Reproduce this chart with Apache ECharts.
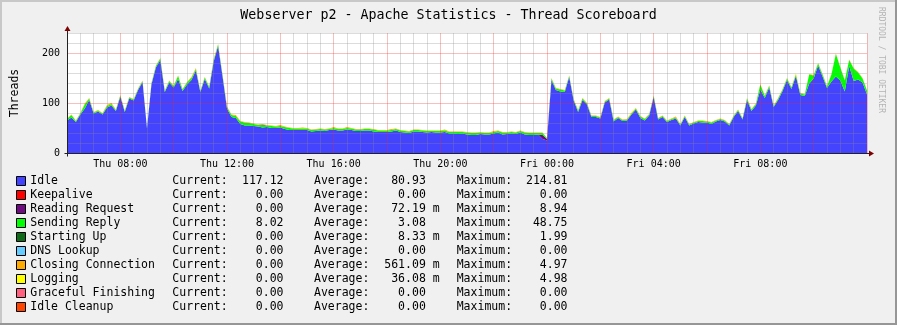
<!DOCTYPE html>
<html><head><meta charset="utf-8">
<script src="https://cdn.jsdelivr.net/npm/echarts@6/dist/echarts.min.js"></script>
<style>html,body{margin:0;padding:0;background:#f0f0f0}#c{width:897px;height:325px}</style>
</head><body><div id="c"></div><script>
// ---------- data (10-minute samples, Thu 06:00 -> Fri 12:00) ----------
const SAMPLES_PER_HOUR = 6;
const startHour = 6;
const dayNames = ['Thu', 'Fri'];
const tickHours = [2, 6, 10, 14, 18, 22, 26];
const tickLabels = ['Thu 08:00', 'Thu 12:00', 'Thu 16:00', 'Thu 20:00', 'Fri 00:00', 'Fri 04:00', 'Fri 08:00'];
const yTickLabels = [0, 100, 200];

const idle = [
  65,71,62,77,89,106,79,83,77,91,
  95,84,113,82,109,105,126,142,49,137,
  171,186,122,141,131,148,124,137,146,165,
  122,148,129,183,214,153,89,72,70,58,
  55,55,54,53,51,52,50,50,51,48,
  46,46,46,46,46,43,44,45,44,46,
  47,45,45,47,46,44,44,45,45,43,
  42,42,42,43,45,42,41,40,43,43,
  42,41,42,41,41,42,39,39,38,39,
  37,36,36,38,37,37,39,41,37,38,
  39,38,41,37,36,36,37,28,25,146,
  126,123,122,152,105,82,106,97,72,72,
  69,101,107,63,70,64,65,77,87,70,
  65,75,112,67,72,62,66,69,55,72,
  55,59,62,61,61,58,63,66,63,55,
  72,84,67,106,84,95,127,110,131,92,
  106,124,146,128,154,116,114,139,149,175,
  153,130,143,153,145,123,174,144,147,141,
  117
];
const readingRequest = [
  0,0,0,0,0,0,0,0,0,0, 0,0,0,0,0,0,0,0,0,0, 0,0,0,0,0,0,0,0,0,0,
  0,0,0,0,0,0,0,0,0,0, 0,0,0,0,0,0,0,0,0,0, 0,0,0,0,0,0,0,0,0,0,
  0,0,0,0,0,0,0,0,0,0, 0,0,0,0,0,0,0,0,0,0, 0,0,0,0,0,0,0,0,0,0,
  0,0,0,0,0,0,0,0,0,0, 0,0,0,0,0,0,0,8,3,0, 0,0,0,0,0,0,0,0,0,0,
  0,0,0,0,0,0,0,0,0,0, 0,0,0,0,0,0,0,0,0,0, 0,0,0,0,0,0,0,0,0,0,
  0,0,0,0,0,0,0,0,0,0, 0,0,0,0,0,0,0,0,0,0, 0,0,0,0,0,0,0,0,0,0,
  0
];
const sendingReply = [
  3,5,2,2,8,3,2,2,2,3,
  3,2,2,2,2,2,2,2,1,2,
  3,3,2,3,3,6,3,4,4,3,
  2,3,3,3,3,2,3,4,4,5,
  6,5,4,3,4,3,4,3,3,4,
  4,3,3,3,3,3,3,3,3,2,
  3,3,3,3,3,3,3,3,3,4,
  3,3,3,3,3,3,3,3,3,3,
  3,3,2,3,3,3,3,3,4,3,
  4,4,4,3,3,3,3,3,4,3,
  3,3,3,4,4,4,3,4,2,3,
  3,4,3,2,2,3,3,2,2,2,
  2,2,2,3,2,2,2,2,2,3,
  3,2,2,2,2,2,2,2,2,2,
  2,2,2,3,2,3,2,2,2,2,
  2,2,2,3,3,3,10,4,3,2,
  3,3,3,3,3,3,3,18,6,4,
  4,3,14,45,26,22,12,25,14,8,
  8
];
const startingUp = [
  0,0,0,0,0,0,0,0,0,0, 0,0,0,0,0,0,0,0,0,0, 0,0,0,0,0,0,0,0,0,0,
  0,0,0,0,0,0,0,0,0,0, 0,0,0,0,2,0,0,0,0,0, 0,0,0,0,0,0,0,0,0,0,
  0,0,0,0,0,0,0,0,0,0, 0,0,0,0,0,0,0,0,0,0, 0,0,0,0,0,0,0,0,0,0,
  0,0,0,0,0,0,0,0,0,0, 0,0,0,0,0,0,0,0,0,0, 0,0,0,0,0,0,0,0,0,0,
  0,0,0,0,0,0,0,0,0,0, 0,0,0,0,0,0,0,0,0,0, 0,0,0,0,0,0,0,0,0,0,
  0,0,0,0,0,0,0,0,0,0, 0,0,0,0,0,0,0,0,0,0, 0,0,0,0,0,0,0,0,0,0,
  0
];
const closingConnection = [
  1,1,1,1,2,1,1,1,1,2,
  2,1,1,1,1,1,1,1,0,1,
  1,1,1,1,1,1,1,1,2,2,
  1,1,1,2,1,1,1,1,2,1,
  1,1,1,1,1,1,1,1,2,1,
  1,1,1,2,1,1,1,1,1,1,
  2,1,1,2,1,1,1,1,1,1,
  1,1,1,2,1,1,1,1,1,1,
  1,1,1,1,1,2,1,1,1,1,
  1,1,1,1,1,1,2,1,1,1,
  1,1,1,1,1,1,1,1,0,1,
  1,1,1,1,1,1,1,1,1,1,
  1,1,1,1,1,1,1,1,1,1,
  1,1,1,1,1,1,1,2,1,1,
  1,1,1,1,1,1,1,1,1,1,
  1,1,1,1,1,1,1,1,1,1,
  1,1,1,1,1,1,1,1,1,1,
  1,1,1,1,1,1,1,1,1,1,
  0
];
const logging = [
  0,0,0,0,0,0,0,0,0,0, 0,0,0,0,0,0,0,0,0,0, 0,0,0,0,0,0,0,0,0,0,
  0,0,0,0,0,0,0,0,0,0, 0,0,0,0,0,0,0,0,0,0, 0,0,0,0,0,0,0,0,0,0,
  0,0,0,0,0,0,0,0,0,0, 0,0,0,0,0,0,0,0,0,0, 0,0,0,0,0,0,0,0,0,0,
  0,0,0,0,0,0,0,0,0,0, 0,0,0,0,0,0,0,0,0,0, 0,0,0,0,0,0,0,0,0,0,
  0,0,0,0,0,0,0,2,0,0, 0,0,0,0,0,0,0,0,0,0, 0,0,0,0,0,0,0,0,0,0,
  0,0,0,0,0,0,0,0,0,0, 0,0,0,0,2,0,0,0,0,0, 0,0,0,0,0,0,0,0,0,0,
  0
];

// legend / statistics table
const legendNames = ['Idle','Keepalive','Reading Request','Sending Reply','Starting Up','DNS Lookup','Closing Connection','Logging','Graceful Finishing','Idle Cleanup'];
const legendColors = ['#4444ff','#ff0000','#700a80','#00ff00','#106b18','#66ccff','#ffaa00','#ffff00','#ff6080','#ff4400'];
const currentValues = ['117.12','0.00','0.00','8.02','0.00','0.00','0.00','0.00','0.00','0.00'];
const averageValues = ['80.93','0.00','72.19','3.08','8.33','0.00','561.09','36.08','0.00','0.00'];
const averageUnits  = ['','','m','','m','','m','m','',''];
const maximumValues = ['214.81','0.00','8.94','48.75','1.99','0.00','4.97','4.98','0.00','0.00'];

const titleText = 'Webserver p2 - Apache Statistics - Thread Scoreboard';
const yAxisName = 'Threads';
const watermark = 'RRDTOOL / TOBI OETIKER';

// ---------- chart ----------
const MONO = "'DejaVu Sans Mono', monospace";
const MAJOR = 'rgba(235,40,40,0.30)';
const MINOR = 'rgba(140,140,140,0.30)';

// category labels: time of each sample
const categories = idle.map((_, i) => {
  const totalMin = startHour * 60 + i * (60 / SAMPLES_PER_HOUR);
  const d = Math.floor(totalMin / 1440), m = totalMin % 1440;
  return dayNames[d] + ' ' + String(Math.floor(m / 60)).padStart(2, '0') + ':' + String(m % 60).padStart(2, '0');
});
const labelIndex = tickHours.map(h => h * SAMPLES_PER_HOUR);

function area(name, color, arr) {
  return {
    name, type: 'line', stack: 'total', data: arr,
    showSymbol: false, symbol: 'none', silent: true,
    lineStyle: { width: 0, color }, itemStyle: { color },
    areaStyle: { color, opacity: 1 }, z: 2
  };
}

const chart = echarts.init(document.getElementById('c'), null, { renderer: 'canvas' });
chart.setOption({
  animation: false,
  backgroundColor: '#f0f0f0',
  grid: { left: 67, right: 30, top: 33, bottom: 172, show: true, backgroundColor: '#ffffff', borderWidth: 0 },
  xAxis: {
    type: 'category', data: categories, boundaryGap: false, z: 5,
    axisLine: { show: true, onZero: false, lineStyle: { color: '#222', width: 1 } },
    axisTick: { show: false },
    axisLabel: {
      interval: 0, fontFamily: MONO, fontSize: 10, color: '#000', margin: 6,
      formatter: (v, idx) => { const k = labelIndex.indexOf(idx); return k >= 0 ? tickLabels[k] : ''; }
    },
    splitLine: { show: true, interval: SAMPLES_PER_HOUR / 2 - 1, lineStyle: { color: [MAJOR, MINOR, MINOR, MINOR], width: 1 } }
  },
  yAxis: {
    type: 'value', min: 0, max: 240, interval: 20, z: 5,
    name: yAxisName, nameLocation: 'middle', nameGap: 46,
    nameTextStyle: { fontFamily: MONO, fontSize: 11.5, color: '#000' },
    axisLine: { show: true, lineStyle: { color: '#222', width: 1 } },
    axisTick: { show: false },
    axisLabel: {
      fontFamily: MONO, fontSize: 10, color: '#000', margin: 7,
      formatter: v => yTickLabels.indexOf(v) >= 0 ? String(v) : ''
    },
    splitLine: { show: true, lineStyle: { color: [MAJOR, MINOR, MINOR, MINOR, MINOR], width: 1 } }
  },
  series: [
    area('Idle', legendColors[0], idle),
    area('Reading Request', legendColors[2], readingRequest),
    area('Sending Reply', legendColors[3], sendingReply),
    area('Starting Up', legendColors[4], startingUp),
    area('Closing Connection', legendColors[6], closingConnection),
    area('Logging', legendColors[7], logging)
  ]
});

// ---------- decorations: title, watermark, stats table, frame, arrows ----------
const g = [];
g.push({ type: 'text', left: 'center', top: 9, style: { text: titleText, font: "13.3px " + MONO, fill: '#000' } });
g.push({ type: 'text', x: 881, y: 7, rotation: -Math.PI / 2, style: { text: watermark, font: "8px " + MONO, fill: '#b4b4b4', textAlign: 'left', textVerticalAlign: 'middle' } });
g.push({ type: 'rect', shape: { x: 0, y: 0, width: 897, height: 2 }, style: { fill: '#c8c8c8' }, silent: true });
g.push({ type: 'rect', shape: { x: 0, y: 0, width: 2, height: 325 }, style: { fill: '#c8c8c8' }, silent: true });
g.push({ type: 'rect', shape: { x: 0, y: 323, width: 897, height: 2 }, style: { fill: '#969696' }, silent: true });
g.push({ type: 'rect', shape: { x: 895, y: 0, width: 2, height: 325 }, style: { fill: '#969696' }, silent: true });

const rowY0 = 181, rowDY = 14;
const fnt = "11.5px " + MONO;
for (let i = 0; i < legendNames.length; i++) {
  const y = rowY0 + i * rowDY;
  g.push({ type: 'rect', shape: { x: 16.5, y: y - 4.5, width: 9, height: 9 }, style: { fill: legendColors[i], stroke: '#000', lineWidth: 1 } });
  g.push({ type: 'text', x: 30.3, y, style: { text: legendNames[i], font: fnt, fill: '#000', textVerticalAlign: 'middle' } });
  g.push({ type: 'text', x: 172.3, y, style: { text: 'Current:', font: fnt, fill: '#000', textVerticalAlign: 'middle' } });
  g.push({ type: 'text', x: 283.5, y, style: { text: currentValues[i], font: fnt, fill: '#000', textAlign: 'right', textVerticalAlign: 'middle' } });
  g.push({ type: 'text', x: 314, y, style: { text: 'Average:', font: fnt, fill: '#000', textVerticalAlign: 'middle' } });
  g.push({ type: 'text', x: 425.8, y, style: { text: averageValues[i], font: fnt, fill: '#000', textAlign: 'right', textVerticalAlign: 'middle' } });
  if (averageUnits[i]) g.push({ type: 'text', x: 432.7, y, style: { text: averageUnits[i], font: fnt, fill: '#000', textVerticalAlign: 'middle' } });
  g.push({ type: 'text', x: 456.7, y, style: { text: 'Maximum:', font: fnt, fill: '#000', textVerticalAlign: 'middle' } });
  g.push({ type: 'text', x: 567.5, y, style: { text: maximumValues[i], font: fnt, fill: '#000', textAlign: 'right', textVerticalAlign: 'middle' } });
}

const topLeft = chart.convertToPixel({ gridIndex: 0 }, [0, 240]);
const botRight = chart.convertToPixel({ gridIndex: 0 }, [idle.length - 1, 0]);
const ax = Math.round(topLeft[0]) + 0.5, ayTop = topLeft[1];
const bx = botRight[0], by = Math.round(botRight[1]) + 0.5;
g.push({ type: 'line', shape: { x1: ax, y1: ayTop, x2: ax, y2: ayTop - 3 }, style: { stroke: '#222' }, z: 10 });
g.push({ type: 'polygon', shape: { points: [[ax, ayTop - 7], [ax - 3, ayTop - 2], [ax + 3, ayTop - 2]] }, style: { fill: '#7f0000' }, z: 10 });
g.push({ type: 'line', shape: { x1: bx, y1: by, x2: bx + 2, y2: by }, style: { stroke: '#222' }, z: 10 });
g.push({ type: 'polygon', shape: { points: [[bx + 7, by], [bx + 2, by - 3], [bx + 2, by + 3]] }, style: { fill: '#7f0000' }, z: 10 });
g.push({ type: 'line', shape: { x1: ax, y1: by, x2: ax, y2: by + 3 }, style: { stroke: '#222' }, z: 10 });
g.push({ type: 'line', shape: { x1: ax - 3, y1: by, x2: ax, y2: by }, style: { stroke: '#222' }, z: 10 });

chart.setOption({ graphic: g });
</script></body></html>
